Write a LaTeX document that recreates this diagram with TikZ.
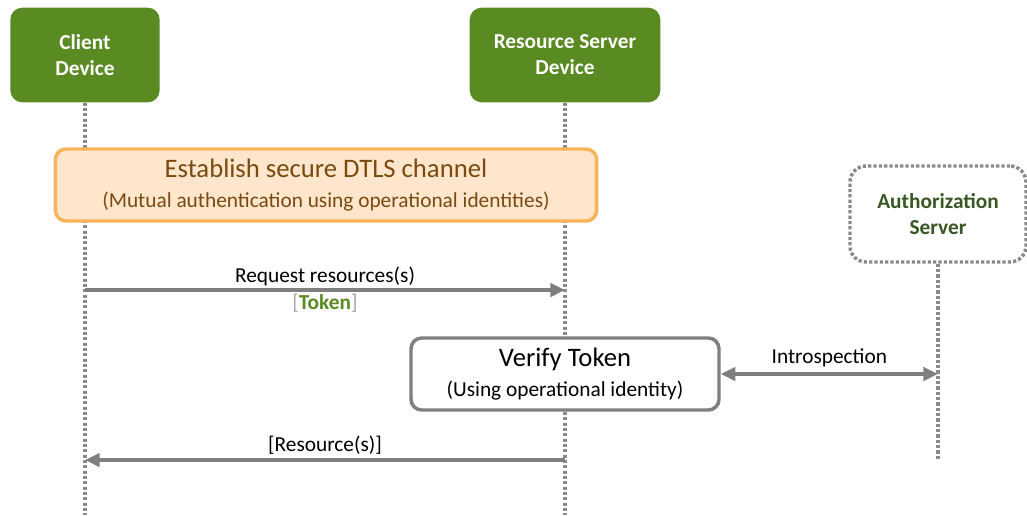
\documentclass[tikz,border=0pt]{standalone}
\usepackage{fontspec}
\setmainfont{Carlito}
\usetikzlibrary{arrows.meta, positioning, calc}
\definecolor{devgreen}{HTML}{5A8A22}
\definecolor{authgreen}{HTML}{385723}
\definecolor{chanfill}{HTML}{FDE6CC}
\definecolor{chanedge}{HTML}{F9B35A}
\definecolor{chantext}{HTML}{7A4A10}
\definecolor{linegray}{HTML}{8A8A8A}
\definecolor{msggray}{HTML}{7F7F7F}

\begin{document}
\begin{tikzpicture}[x=0.75pt, y=-0.75pt,
    device/.style={fill=devgreen, rounded corners=9pt, text=white, align=center,
        font=\fontsize{16}{19.5}\selectfont\bfseries, minimum height=71pt},
    stagebox/.style={line width=2.6pt, rounded corners=8pt, minimum height=54pt,
        align=center, font=\fontsize{16}{22}\selectfont},
    lifeline/.style={draw=linegray, line width=2.6pt, dash pattern=on 2.4pt off 1.6pt},
    msg/.style={draw=msggray, line width=2.6pt, -{Triangle[length=11pt,width=10pt]}},
    msglabel/.style={font=\fontsize{16}{19}\selectfont, inner sep=2pt}]
    \useasboundingbox (0,0) rectangle (1027,515);

    % Nodes
    \node (client) [device, minimum width=112pt] at (85,55) {Client\\Device};
    \node (server) [device, minimum width=143pt] at (565,55) {Resource Server\\Device};
    \node (authz) [draw=linegray, line width=2.6pt, dash pattern=on 2.4pt off 1.6pt,
        rounded corners=12pt, minimum width=132pt, minimum height=72pt, align=center,
        text=authgreen, font=\fontsize{16}{19.5}\selectfont\bfseries] at (938,214) {Authorization\\Server};

    % Lifelines
    \coordinate (clientend) at (85,515);
    \coordinate (serverend) at (565,515);
    \coordinate (authzend) at (938,460);
    \draw[lifeline] (client.south) -- (clientend);
    \draw[lifeline] (server.south) -- (serverend);
    \draw[lifeline] (authz.south) -- (authzend);

    \node (dtls) [stagebox, draw=chanedge, fill=chanfill, minimum width=406pt, text=chantext] at (326,185)
        {{\fontsize{20}{24}\selectfont Establish secure DTLS channel}\\
         (Mutual authentication using operational identities)};
    \node (verify) [stagebox, draw=msggray, fill=white, minimum width=231pt] at (565,374)
        {{\fontsize{20}{24}\selectfont Verify Token}\\
         (Using operational identity)};

    % Messages
    \coordinate (c-req) at (85,290);
    \coordinate (s-req) at (565,290);
    \coordinate (a-intro) at (938,374);
    \coordinate (s-res) at (565,460);
    \coordinate (c-res) at (85,460);

    \draw[msg] (c-req) -- node[msglabel, above=0pt] {Request resources(s)}
        node[msglabel, below=0pt] {\textcolor{gray!70}{[}\textcolor{devgreen}{\bfseries Token}\textcolor{gray!70}{]}} (s-req);
    \draw[msg, {Triangle[length=11pt,width=10pt]}-{Triangle[length=11pt,width=10pt]}] (verify.east) --
        node[msglabel, above=2pt] {Introspection} (a-intro);
    \draw[msg] (s-res) -- node[msglabel, above=1pt] {[Resource(s)]} (c-res);
\end{tikzpicture}
\end{document}
